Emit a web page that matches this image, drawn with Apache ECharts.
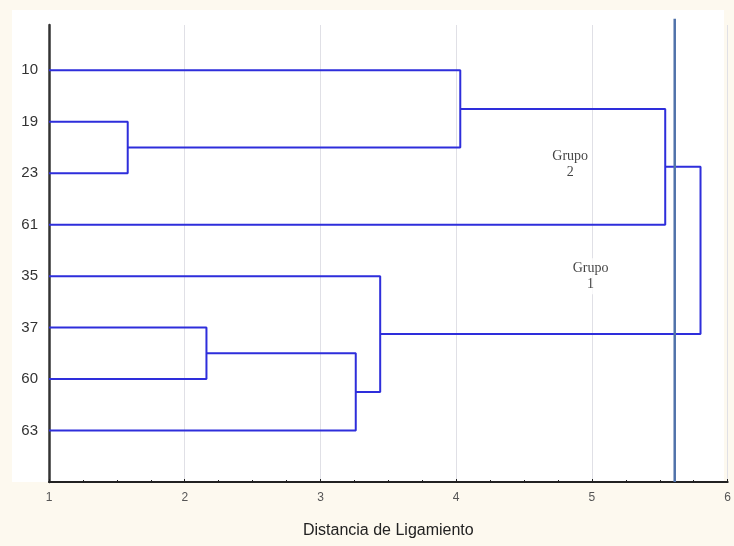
<!DOCTYPE html>
<html>
<head>
<meta charset="utf-8">
<script src="https://cdn.jsdelivr.net/npm/echarts@6/dist/echarts.min.js"></script>
<style>html,body{margin:0;padding:0;background:#fdf9ef;}#c{width:734px;height:546px;}</style>
</head>
<body>
<div id="c"></div>
<script>
// Leaf labels, top to bottom
var leaves = ['10', '19', '23', '61', '35', '37', '60', '63'];
// Merges: [childA, childB, linkage distance]; indices < 8 are leaves, >= 8 are previous merges
var mergeA = [1, 5, 9, 4, 0, 12, 13];
var mergeB = [2, 6, 7, 10, 8, 3, 11];
var mergeHeight = [1.58, 2.16, 3.26, 3.44, 4.03, 5.54, 5.80];
var cutDistance = 5.61;
var xTicks = [1, 2, 3, 4, 5, 6];
var groupLabels = ['Grupo\n2', 'Grupo\n1'];
var groupLabelPos = [[4.84, 6.17], [4.99, 4.0]];

var n = leaves.length;
var nodeY = [], nodeX = [];
for (var i = 0; i < n; i++) { nodeY.push(n - i); nodeX.push(1); }
var series = [];
for (var k = 0; k < mergeHeight.length; k++) {
  var a = mergeA[k], b = mergeB[k], h = mergeHeight[k];
  series.push({
    type: 'line', symbol: 'none', silent: true,
    lineStyle: { color: '#2e2edb', width: 2 },
    data: [[nodeX[a], nodeY[a]], [h, nodeY[a]], [h, nodeY[b]], [nodeX[b], nodeY[b]]],
    z: 3
  });
  nodeY.push((nodeY[a] + nodeY[b]) / 2);
  nodeX.push(h);
}
series.push({
  type: 'line', symbol: 'none', silent: true, clip: false,
  lineStyle: { color: '#5072aa', width: 2.5 },
  data: [[cutDistance, 0], [cutDistance, 9.0]],
  z: 4
});
series.push({
  type: 'scatter', symbolSize: 0, silent: true, z: 5,
  data: groupLabelPos.map(function (p, i) { return { value: p, name: groupLabels[i] }; }),
  label: {
    show: true, position: 'inside', formatter: function (p) { return p.name; },
    fontFamily: 'Liberation Serif, Times New Roman, serif', fontSize: 14, color: '#111',
    lineHeight: 16, align: 'center', backgroundColor: '#fff', padding: [2, 3]
  }
});

var chart = echarts.init(document.getElementById('c'));
chart.setOption({
  animation: false,
  backgroundColor: '#fdf9ef',
  graphic: [{ type: 'rect', shape: { x: 12, y: 10, width: 712, height: 472 }, style: { fill: '#ffffff' }, z: -10 }],
  grid: { left: 49, right: 3, top: 25, bottom: 64 },
  xAxis: {
    type: 'value', min: 1, max: 6, interval: 1,
    name: 'Distancia de Ligamiento', nameLocation: 'middle', nameGap: 41,
    nameTextStyle: { fontFamily: 'Liberation Sans, Arial, sans-serif', fontSize: 16, color: '#222' },
    axisLine: { show: true, lineStyle: { color: '#222', width: 2 } },
    axisTick: { show: true, inside: true, length: 3, lineStyle: { color: '#222' } },
    minorTick: { show: true, splitNumber: 4, length: 2, lineStyle: { color: '#222' } },
    axisLabel: { color: '#555', fontSize: 12, fontFamily: 'Liberation Sans, Arial, sans-serif', margin: 10,
      formatter: function (v) { return xTicks.indexOf(v) >= 0 ? String(v) : ''; } },
    splitLine: { show: true, lineStyle: { color: '#e0e0e6', width: 1 } }
  },
  yAxis: {
    type: 'value', min: 0, max: 8.88, interval: 1,
    axisLine: { show: true, lineStyle: { color: '#333', width: 2.5 } },
    axisTick: { show: false },
    splitLine: { show: false },
    axisLabel: {
      color: '#333', fontSize: 15, fontFamily: 'Liberation Sans, Arial, sans-serif', margin: 11,
      formatter: function (v) {
        if (Math.abs(v - Math.round(v)) > 1e-6) return '';
        var idx = n - Math.round(v);
        return (idx >= 0 && idx < n) ? leaves[idx] : '';
      }
    }
  },
  series: series
});
</script>
</body>
</html>
